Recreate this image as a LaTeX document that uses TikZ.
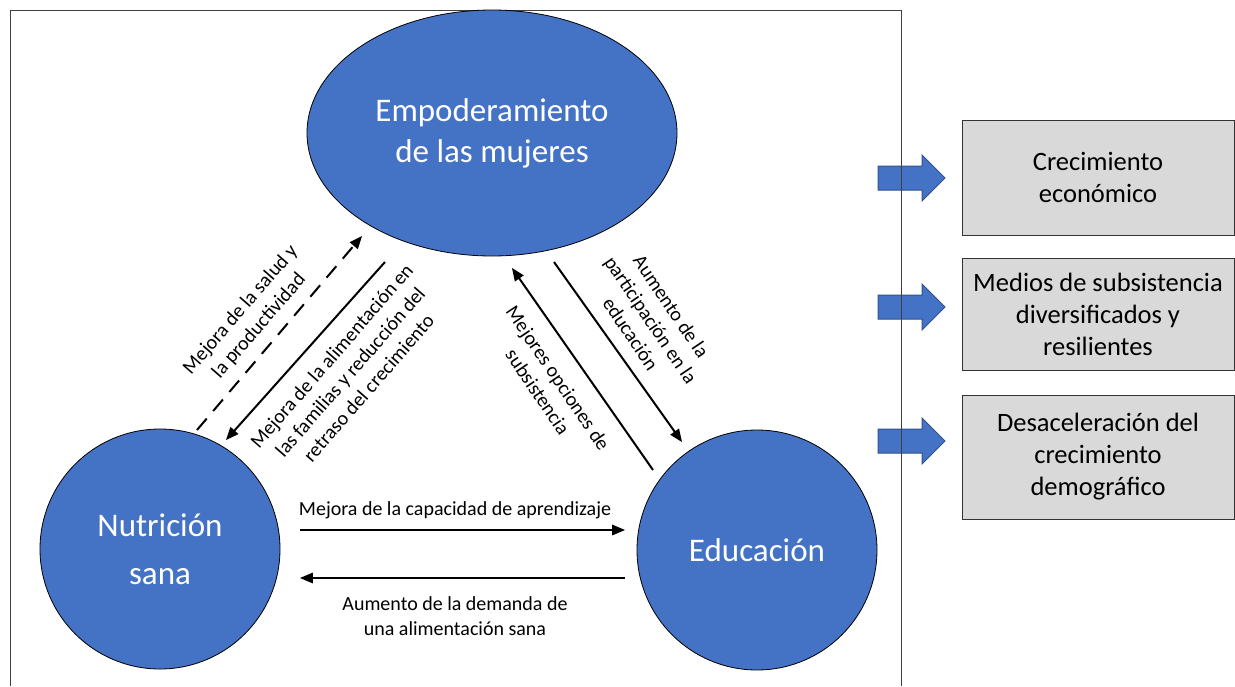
\documentclass[tikz,border=0pt]{standalone}
\usepackage{fontspec}
\setmainfont{Carlito}
\usepackage{tikz}
\usetikzlibrary{arrows,shapes.geometric}
\definecolor{azul}{RGB}{68,114,196}
\definecolor{azulborde}{RGB}{47,82,143}
\definecolor{gris}{RGB}{217,217,217}
\tikzset{
  tema/.style={fill=azul,draw=black,line width=0.8pt,text=white,align=center,inner sep=0pt,font=\fontsize{33}{41}\selectfont},
  flecha/.style={->,line width=2pt},
  etiqueta/.style={font=\fontsize{20}{24.5}\selectfont,align=center,inner sep=0pt},
  resultado/.style={draw=gray!40!black,fill=gris,line width=1pt,minimum width=272pt,align=center,font=\fontsize{26.5}{32}\selectfont},
  bloque/.style={fill=azul,draw=azulborde,line width=1pt,line join=miter}
}
\begin{document}
\begin{tikzpicture}[line cap=butt,>=triangle 45,x=1pt,y=-1pt]
\useasboundingbox (0,0) rectangle (1235,686);
% arrows towards the outcomes
\foreach \yy in {178,307,441}
  \draw[bloque] (878,\yy-12) -- (922,\yy-12) -- (922,\yy-23) -- (945,\yy) -- (922,\yy+23) -- (922,\yy+12) -- (878,\yy+12) -- cycle;
\draw[gray!50!black,line width=1pt] (10,686) -- (10,10) -- (901,10) -- (901,686);
% the three themes
\node[tema,ellipse,minimum width=370pt,minimum height=246pt] (emp) at (492,133) {Empoderamiento\\de las mujeres};
\node[tema,circle,minimum size=240pt,font=\fontsize{33}{48}\selectfont] (nut) at (160,549) {Nutrición\\sana};
\node[tema,circle,minimum size=240pt] (edu) at (757,550) {Educación};
% outcomes
\node[resultado,minimum height=115pt] (econ) at (1098,177.5) {Crecimiento\\económico};
\node[resultado,minimum height=112pt] (medios) at (1098,314) {Medios de subsistencia\\diversificados y\\resilientes};
\node[resultado,minimum height=124pt] (demo) at (1098,457) {Desaceleración del\\crecimiento\\demográfico};
% arrow ends
\coordinate (n1) at (197,430);
\coordinate (e1) at (362,236);
\coordinate (e2) at (385,262);
\coordinate (n2) at (226,440);
\coordinate (d1) at (653,470);
\coordinate (e3) at (512,268);
\coordinate (e4) at (554,262);
\coordinate (d2) at (682,442);
\coordinate (n3) at (300,530);
\coordinate (d3) at (625,530);
\coordinate (d4) at (625,578);
\coordinate (n4) at (300,578);
\draw[flecha,dash pattern=on 15pt off 10pt] (n1) -- (e1);
\draw[flecha] (e2) -- (n2);
\draw[flecha] (d1) -- (e3);
\draw[flecha] (e4) -- (d2);
\draw[flecha] (n3) -- (d3);
\draw[flecha] (d4) -- (n4);
% labels
\node[etiqueta,rotate=49] (salud) at (250,318) {Mejora de la salud y\\la productividad};
\node[etiqueta,rotate=49] (alim) at (350,372) {Mejora de la alimentación en\\las familias y reducción del\\retraso del crecimiento};
\node[etiqueta,rotate=-56] (partic) at (651,320) {Aumento de la\\participación en la\\educación};
\node[etiqueta,rotate=-56] (opc) at (548,385) {Mejores opciones de\\subsistencia};
\node[etiqueta] (aprend) at (455,510) {Mejora de la capacidad de aprendizaje};
\node[etiqueta] (demanda) at (455,616) {Aumento de la demanda de\\una alimentación sana};
\end{tikzpicture}
\end{document}
